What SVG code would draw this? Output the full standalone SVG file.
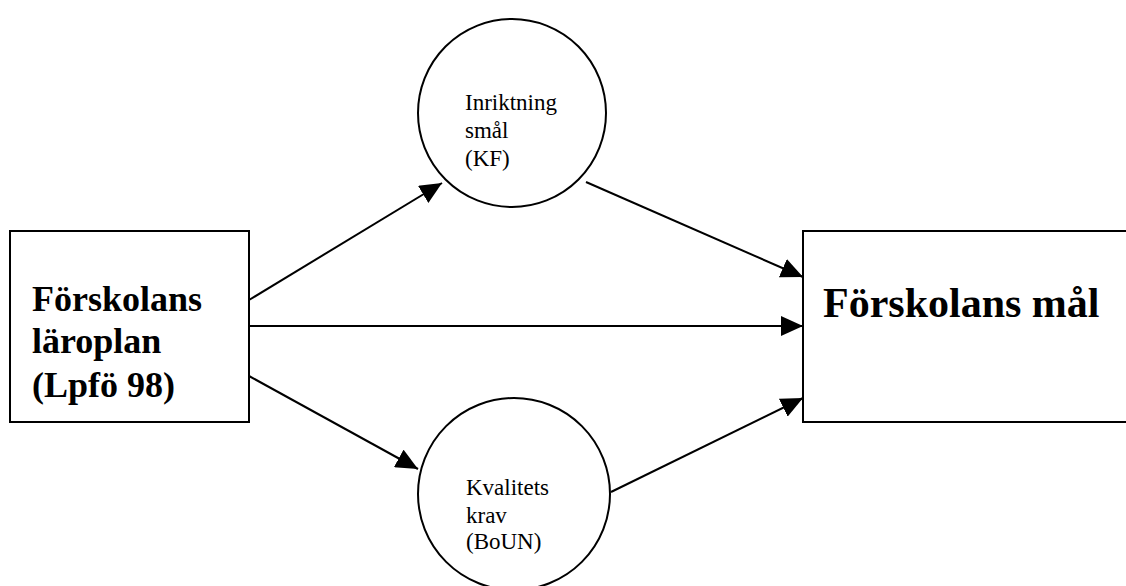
<svg xmlns="http://www.w3.org/2000/svg" width="1126" height="586" viewBox="0 0 1126 586">
<style>
.box{fill:#fff;stroke:#000;stroke-width:2}
.circ{fill:#fff;stroke:#000;stroke-width:2}
.edge{fill:none;stroke:#000;stroke-width:2}
.small{font-family:"Liberation Serif","Times New Roman",serif;font-size:23px;fill:#000}
.big{font-family:"Liberation Serif","Times New Roman",serif;font-weight:bold;fill:#000}
</style>
<defs>
<marker id="ah" viewBox="0 0 22 20" refX="22" refY="10" markerWidth="22" markerHeight="20" markerUnits="userSpaceOnUse" orient="auto">
<path d="M0,0 L22,10 L0,20 Z" fill="#000"/>
</marker>
</defs>
<rect width="1126" height="586" fill="#fff"/>
<g id="connectors">
<line class="edge" x1="249" y1="300" x2="442" y2="183" marker-end="url(#ah)"/>
<line class="edge" x1="586" y1="182" x2="803" y2="277" marker-end="url(#ah)"/>
<line class="edge" x1="249" y1="326" x2="803" y2="326" marker-end="url(#ah)"/>
<line class="edge" x1="249" y1="376" x2="418" y2="469" marker-end="url(#ah)"/>
<line class="edge" x1="611" y1="492" x2="803" y2="398" marker-end="url(#ah)"/>
</g>
<g id="node-laroplan">
<rect class="box" x="10" y="231" width="239" height="191"/>
<text class="big" font-size="36" x="32" y="311">Förskolans</text>
<text class="big" font-size="36" x="32" y="353">läroplan</text>
<text class="big" font-size="36" x="32" y="397">(Lpfö 98)</text>
</g>
<g id="node-mal">
<rect class="box" x="803" y="231" width="330" height="191"/>
<text class="big" font-size="42" x="823" y="317">Förskolans mål</text>
</g>
<g id="node-inriktning">
<circle class="circ" cx="512" cy="113" r="94"/>
<text class="small" x="465" y="110">Inriktning</text>
<text class="small" x="465" y="138">smål</text>
<text class="small" x="465" y="166">(KF)</text>
</g>
<g id="node-kvalitet">
<circle class="circ" cx="514" cy="494" r="96"/>
<text class="small" x="466" y="495">Kvalitets</text>
<text class="small" x="466" y="523">krav</text>
<text class="small" x="466" y="549">(BoUN)</text>
</g>
</svg>
